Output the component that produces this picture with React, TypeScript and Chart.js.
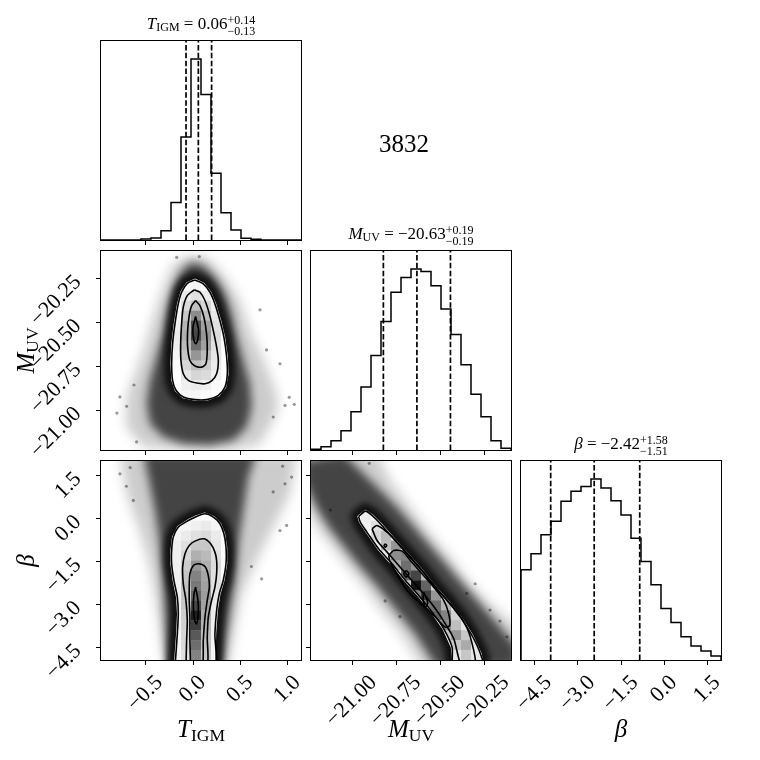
import React, { useEffect, useRef } from "react";
import { Chart, registerables } from "chart.js";

Chart.register(...registerables);

type Pt = [number, number];

// ---------- axis ranges & ticks ----------
const T_RANGE: Pt = [-0.968, 1.144];
const M_RANGE: Pt = [-21.23, -20.097];
const B_RANGE: Pt = [-4.96, 1.98];
const T_TICKS = [-0.5, 0.0, 0.5, 1.0];
const M_TICKS = [-21.0, -20.75, -20.5, -20.25];
const B_TICKS = [-4.5, -3.0, -1.5, 0.0, 1.5];

// ---------- 1D histograms (20 bins over each range) ----------
const T_HIST = [0, 0, 0, 0, 3, 6, 28, 113, 310, 545, 438, 201, 82, 30, 5, 2, 0, 0, 0, 0];
const M_HIST = [2, 10, 28, 58, 115, 190, 285, 387, 475, 520, 545, 538, 495, 425, 348, 257, 168, 100, 28, 5];
const B_HIST = [272, 320, 377, 418, 478, 508, 523, 545, 518, 480, 437, 367, 297, 227, 155, 113, 70, 42, 27, 12];

// median, +err, -err
const T_STATS = [0.06, 0.14, 0.13];
const M_STATS = [-20.63, 0.19, 0.19];
const B_STATS = [-2.42, 1.58, 1.51];

const OBJECT_ID = "3832";

// ---------- panel A: T_IGM vs M_UV ----------
const A_CLOUD_OUTER: Pt[] = [[-0.046, -20.123], [0.147, -20.133], [0.323, -20.228], [0.499, -20.379], [0.62, -20.569], [0.75, -20.72], [0.88, -20.9], [0.9, -21.0], [0.82, -21.09], [0.711, -21.194], [0.429, -21.231], [-0.099, -21.231], [-0.521, -21.212], [-0.7, -21.1], [-0.7, -20.93], [-0.62, -20.815], [-0.521, -20.663], [-0.416, -20.474], [-0.31, -20.303], [-0.205, -20.171]];
const A_CLOUD_INNER: Pt[] = [[-0.011, -20.161], [0.112, -20.18], [0.235, -20.247], [0.341, -20.341], [0.411, -20.455], [0.464, -20.587], [0.535, -20.72], [0.605, -20.853], [0.623, -20.985], [0.57, -21.099], [0.429, -21.175], [0.183, -21.203], [-0.099, -21.194], [-0.31, -21.156], [-0.451, -21.08], [-0.486, -20.966], [-0.451, -20.834], [-0.381, -20.701], [-0.31, -20.569], [-0.257, -20.417], [-0.187, -20.284], [-0.099, -20.199]];
const A_C1: Pt[] = [[0.024, -20.262], [0.112, -20.284], [0.183, -20.332], [0.235, -20.398], [0.288, -20.493], [0.33, -20.587], [0.359, -20.701], [0.366, -20.796], [0.341, -20.872], [0.271, -20.919], [0.147, -20.943], [0.024, -20.943], [-0.099, -20.928], [-0.176, -20.89], [-0.212, -20.834], [-0.222, -20.739], [-0.212, -20.625], [-0.187, -20.512], [-0.152, -20.398], [-0.117, -20.332], [-0.057, -20.281]];
const A_C2: Pt[] = [[0.017, -20.318], [0.077, -20.332], [0.13, -20.379], [0.176, -20.455], [0.218, -20.55], [0.253, -20.644], [0.271, -20.72], [0.253, -20.796], [0.2, -20.837], [0.13, -20.853], [0.042, -20.849], [-0.046, -20.834], [-0.099, -20.796], [-0.124, -20.72], [-0.127, -20.625], [-0.117, -20.512], [-0.099, -20.417], [-0.057, -20.351]];
const A_C3: Pt[] = [[0.031, -20.379], [0.077, -20.408], [0.119, -20.474], [0.147, -20.569], [0.154, -20.663], [0.14, -20.739], [0.095, -20.758], [0.024, -20.752], [-0.029, -20.72], [-0.053, -20.644], [-0.053, -20.55], [-0.036, -20.464], [-0.011, -20.408]];
const A_C4: Pt[] = [[0.031, -20.47], [0.063, -20.55], [0.052, -20.606], [0.031, -20.625], [0.007, -20.587], [0.003, -20.531]];
const A_OUT: Pt[] = [[0.711, -20.432], [0.975, -20.976], [1.073, -20.97], [0.922, -20.739], [-0.768, -20.928], [-0.697, -20.981], [0.07, -20.129], [-0.169, -20.133], [0.851, -21.042], [-0.592, -21.184], [0.78, -20.66], [-0.62, -20.86], [1.02, -20.93], [-0.8, -21.02]];
// density cells (percent darkness), rows from row 3 (top), columns from col 7
const A_DENS = [
  [0, 2, 4, 2, 0, 0],
  [0, 8, 12, 8, 2, 0],
  [2, 14, 25, 16, 6, 0],
  [4, 22, 45, 25, 10, 0],
  [6, 29, 69, 37, 12, 2],
  [8, 31, 73, 41, 14, 2],
  [6, 27, 57, 37, 12, 2],
  [4, 22, 41, 27, 10, 0],
  [2, 16, 25, 20, 8, 0],
  [0, 10, 16, 14, 6, 0],
  [0, 6, 8, 6, 2, 0],
  [0, 4, 4, 2, 0, 0],
];

// ---------- panel B: T_IGM vs beta ----------
const B_CLOUD_OUTER: Pt[] = [[-0.768, 2.232], [1.098, 2.232], [1.027, 0.836], [0.851, -0.326], [0.675, -1.489], [0.517, -2.652], [0.447, -3.815], [0.376, -5.21], [-0.293, -5.21], [-0.345, -3.815], [-0.398, -2.652], [-0.469, -1.489], [-0.574, -0.326], [-0.697, 0.836]];
const B_CLOUD_INNER: Pt[] = [[-0.521, 2.232], [0.675, 2.232], [0.587, 1.418], [0.535, 0.255], [0.482, -0.908], [0.447, -2.07], [0.394, -3.233], [0.341, -4.396], [0.306, -5.21], [-0.257, -5.21], [-0.275, -4.396], [-0.293, -3.233], [-0.31, -2.07], [-0.345, -0.908], [-0.398, 0.255], [-0.469, 1.418]];
const B_C1: Pt[] = [[-0.187, -5.21], [-0.162, -4.047], [-0.152, -3.349], [-0.162, -2.768], [-0.198, -2.187], [-0.222, -1.605], [-0.222, -1.14], [-0.205, -0.675], [-0.152, -0.326], [-0.046, -0.094], [0.042, 0.046], [0.13, 0.139], [0.218, 0.022], [0.288, -0.21], [0.33, -0.559], [0.352, -1.024], [0.352, -1.605], [0.323, -2.187], [0.281, -2.652], [0.253, -3.233], [0.235, -4.047], [0.228, -5.21]];
const B_C2: Pt[] = [[-0.071, -5.21], [-0.064, -4.28], [-0.057, -3.582], [-0.071, -2.884], [-0.099, -2.303], [-0.106, -1.722], [-0.081, -1.257], [-0.036, -0.966], [0.024, -0.815], [0.119, -0.733], [0.19, -0.908], [0.235, -1.198], [0.253, -1.489], [0.253, -1.954], [0.235, -2.419], [0.2, -2.884], [0.165, -3.466], [0.154, -4.163], [0.147, -5.21]];
const B_C3: Pt[] = [[-0.022, -5.21], [-0.029, -4.28], [-0.029, -3.466], [-0.036, -2.884], [-0.036, -2.419], [-0.029, -1.954], [0.007, -1.664], [0.059, -1.605], [0.13, -1.698], [0.165, -2.012], [0.176, -2.419], [0.154, -2.884], [0.13, -3.466], [0.112, -4.28], [0.098, -5.21]];
const B_C4: Pt[] = [[0.031, -2.419], [0.056, -2.884], [0.059, -3.349], [0.042, -3.698], [0.021, -3.582], [0.007, -3.117], [0.014, -2.652]];
const B_OUT: Pt[] = [[0.728, -2.128], [0.922, -0.443], [0.992, -0.268], [1.045, 1.418], [0.975, 1.185], [-0.768, 1.534], [-0.627, 0.604], [0.85, 0.9], [-0.7, 1.1], [0.62, -1.7], [-0.66, 1.75], [0.95, 1.8]];
// rows from row 5, columns from col 7
const B_DENS = [
  [0, 2, 2, 2, 0, 0],
  [2, 4, 6, 8, 4, 0],
  [4, 8, 12, 14, 8, 2],
  [6, 12, 22, 22, 10, 2],
  [6, 16, 31, 27, 12, 2],
  [6, 20, 41, 31, 14, 2],
  [6, 22, 49, 35, 12, 2],
  [6, 24, 53, 37, 12, 2],
  [6, 24, 61, 39, 10, 2],
  [6, 22, 73, 37, 8, 0],
  [6, 20, 88, 33, 8, 0],
  [6, 18, 76, 29, 6, 0],
  [4, 16, 65, 25, 6, 0],
  [4, 14, 57, 24, 4, 0],
  [4, 12, 49, 22, 4, 0],
];

// ---------- panel C: M_UV vs beta ----------
const C_CLOUD_OUTER: Pt[] = [[-21.272, 2.232], [-20.856, 2.232], [-20.781, 1.301], [-20.667, 0.371], [-20.554, -0.559], [-20.44, -1.373], [-20.327, -2.303], [-20.214, -3.001], [-20.062, -3.815], [-20.062, -5.21], [-20.6, -5.21], [-20.72, -4.047], [-20.83, -3.233], [-20.925, -2.419], [-21.02, -1.722], [-21.11, -1.024], [-21.2, -0.326], [-21.272, 0.604]];
const C_CLOUD_INNER: Pt[] = [[-21.272, 1.999], [-21.045, 2.232], [-20.951, 1.65], [-20.856, 1.069], [-20.743, 0.371], [-20.629, -0.443], [-20.516, -1.257], [-20.403, -2.07], [-20.289, -2.884], [-20.176, -3.698], [-20.062, -4.512], [-20.062, -5.21], [-20.52, -5.21], [-20.64, -4.047], [-20.76, -3.117], [-20.85, -2.419], [-20.95, -1.722], [-21.04, -1.024], [-21.13, -0.326], [-21.2, 0.371], [-21.272, 1.301]];
const C_C1: Pt[] = [[-20.96, 0.046], [-20.922, 0.232], [-20.884, 0.081], [-20.828, -0.268], [-20.762, -0.733], [-20.686, -1.257], [-20.61, -1.78], [-20.535, -2.361], [-20.459, -2.884], [-20.384, -3.466], [-20.318, -4.105], [-20.27, -4.745], [-20.255, -5.21], [-20.421, -5.21], [-20.431, -4.512], [-20.478, -3.873], [-20.544, -3.291], [-20.62, -2.71], [-20.695, -2.187], [-20.771, -1.605], [-20.847, -1.082], [-20.913, -0.501], [-20.951, -0.152]];
const C_C2: Pt[] = [[-20.884, -0.385], [-20.856, -0.268], [-20.799, -0.501], [-20.733, -0.908], [-20.667, -1.373], [-20.592, -1.896], [-20.516, -2.477], [-20.44, -3.001], [-20.374, -3.524], [-20.327, -4.163], [-20.299, -5.21], [-20.374, -5.21], [-20.421, -4.221], [-20.469, -3.698], [-20.525, -3.175], [-20.592, -2.652], [-20.667, -2.128], [-20.733, -1.664], [-20.799, -1.198], [-20.856, -0.791]];
const C_C3: Pt[] = [[-20.79, -1.315], [-20.762, -1.14], [-20.714, -1.164], [-20.667, -1.489], [-20.601, -1.954], [-20.535, -2.419], [-20.478, -2.884], [-20.45, -3.349], [-20.444, -3.756], [-20.469, -3.815], [-20.507, -3.582], [-20.563, -3.233], [-20.629, -2.884], [-20.686, -2.535], [-20.743, -1.954], [-20.781, -1.547]];
const C_C4A: Pt[] = [[-20.69, -1.838], [-20.675, -1.954], [-20.69, -2.07], [-20.705, -1.954]];
const C_C4B: Pt[] = [[-20.592, -2.594], [-20.569, -2.942], [-20.58, -3.117], [-20.595, -2.884]];
const C_C4C: Pt[] = [[-20.809, -0.908], [-20.801, -0.966], [-20.809, -1.024], [-20.816, -0.966]];
const C_OUT: Pt[] = [[-20.216, -3.217], [-20.726, -3.45], [-21.12, 0.27], [-20.348, -2.636], [-20.12, -4.15], [-20.3, -2.3], [-20.9, 1.9], [-20.81, -2.9], [-20.16, -3.6]];
// rows from row 5, columns from col 4
const C_DENS = [
  [0, 8, 4, 0, 0, 0, 0, 0, 0, 0, 0, 0, 0, 0],
  [0, 6, 12, 6, 0, 0, 0, 0, 0, 0, 0, 0, 0, 0],
  [0, 0, 16, 27, 10, 0, 0, 0, 0, 0, 0, 0, 0, 0],
  [0, 0, 6, 25, 41, 14, 0, 0, 0, 0, 0, 0, 0, 0],
  [0, 0, 0, 10, 45, 49, 16, 0, 0, 0, 0, 0, 0, 0],
  [0, 0, 0, 0, 33, 57, 41, 14, 0, 0, 0, 0, 0, 0],
  [0, 0, 0, 0, 10, 61, 73, 29, 0, 0, 0, 0, 0, 0],
  [0, 0, 0, 0, 0, 22, 92, 61, 18, 0, 0, 0, 0, 0],
  [0, 0, 0, 0, 0, 0, 49, 76, 41, 14, 0, 0, 0, 0],
  [0, 0, 0, 0, 0, 0, 14, 53, 57, 29, 0, 0, 0, 0],
  [0, 0, 0, 0, 0, 0, 0, 14, 61, 49, 18, 0, 0, 0],
  [0, 0, 0, 0, 0, 0, 0, 0, 33, 45, 25, 10, 0, 0],
  [0, 0, 0, 0, 0, 0, 0, 0, 10, 22, 41, 22, 6, 0],
  [0, 0, 0, 0, 0, 0, 0, 0, 0, 14, 22, 33, 10, 0],
  [0, 0, 0, 0, 0, 0, 0, 0, 0, 0, 10, 22, 10, 0],
];

// ---------- layout ----------
const COL_X = [101, 311, 521];
const ROW_Y = [41, 251, 461];
const PANEL_W = 200;
const PANEL_H = 199;
const SERIF = "'Liberation Serif', 'Times New Roman', serif";
const NBINS = 20;
const TICK_FONT = 22;

type Part = { t?: string; sup?: string; sub?: string; size: number; italic?: boolean; dy?: number };

const fmt = (v: number, d: number) => v.toFixed(d).replace("-", "\u2212");
const font = (size: number, italic?: boolean) => `${italic ? "italic " : ""}${size}px ${SERIF}`;

function partWidth(ctx: CanvasRenderingContext2D, p: Part) {
  if (p.sup !== undefined) {
    ctx.font = font(p.size);
    return Math.max(ctx.measureText(p.sup).width, ctx.measureText(p.sub || "").width);
  }
  ctx.font = font(p.size, p.italic);
  return ctx.measureText(p.t || "").width;
}

function drawParts(ctx: CanvasRenderingContext2D, parts: Part[], cx: number, y: number) {
  const widths = parts.map((p) => partWidth(ctx, p));
  const total = widths.reduce((s, w) => s + w, 0);
  let x = cx - total / 2;
  ctx.textAlign = "left";
  ctx.textBaseline = "alphabetic";
  ctx.fillStyle = "#000";
  parts.forEach((p, i) => {
    if (p.sup !== undefined) {
      ctx.font = font(p.size);
      ctx.fillText(p.sup, x, y - 4.5);
      ctx.fillText(p.sub || "", x, y + 6);
    } else {
      ctx.font = font(p.size, p.italic);
      ctx.fillText(p.t || "", x, y + (p.dy || 0));
    }
    x += widths[i];
  });
}

const LBL_T: Part[] = [{ t: "T", size: 25, italic: true }, { t: "IGM", size: 17.5, dy: 3.5 }];
const LBL_M: Part[] = [{ t: "M", size: 25, italic: true }, { t: "UV", size: 17.5, dy: 3.5 }];
const LBL_B: Part[] = [{ t: "\u03b2", size: 25, italic: true }];

function titleParts(sym: string, sub: string | null, st: number[]): Part[] {
  const parts: Part[] = [{ t: sym, size: 17, italic: true }];
  if (sub) parts.push({ t: sub, size: 12, dy: 2.5 });
  parts.push({ t: " = " + fmt(st[0], 2), size: 17 });
  parts.push({ sup: "+" + st[1].toFixed(2), sub: "\u2212" + st[2].toFixed(2), size: 12 });
  return parts;
}

function stepPoints(counts: number[], range: Pt) {
  const w = (range[1] - range[0]) / counts.length;
  const pts = [{ x: range[0], y: 0 }];
  counts.forEach((c, i) => {
    pts.push({ x: range[0] + i * w, y: c });
    pts.push({ x: range[0] + (i + 1) * w, y: c });
  });
  pts.push({ x: range[1], y: 0 });
  return pts;
}

function histDatasets(counts: number[], range: Pt, st: number[]) {
  const ymax = 1.1 * Math.max(...counts);
  const qs = [st[0] - st[2], st[0], st[0] + st[1]];
  return [
    { data: stepPoints(counts, range), showLine: true, borderColor: "#000", borderWidth: 1.5, pointRadius: 0, tension: 0, fill: false },
    ...qs.map((q) => ({
      data: [{ x: q, y: 0 }, { x: q, y: ymax }],
      showLine: true, borderColor: "#000", borderWidth: 1.7, borderDash: [5.5, 2.4], pointRadius: 0, fill: false,
    })),
  ];
}

const contourSet = (pts: Pt[]) => ({
  data: [...pts, pts[0]].map(([x, y]) => ({ x, y })),
  showLine: true, borderColor: "#000", borderWidth: 1.6, pointRadius: 0, tension: 0.25, fill: false,
});
const pointsSet = (pts: Pt[]) => ({
  data: pts.map(([x, y]) => ({ x, y })),
  showLine: false, pointRadius: 1.6, backgroundColor: "rgba(0,0,0,0.4)", borderWidth: 0,
});

type Cloud = { outer: Pt[]; inner: Pt[]; white: Pt[]; dens: number[][]; col0: number; row0: number };
type Spec = {
  col: number; row: number; xRange: Pt; yRange: Pt;
  xTicks: number[]; xDec: number; xTickLabels: boolean;
  yTicks?: number[]; yDec?: number; yTickLabels?: boolean;
  xLabel?: Part[]; yLabel?: Part[]; title?: Part[]; extra?: string;
  datasets: any[]; cloud?: Cloud;
};

const SPECS: Spec[] = [
  {
    col: 0, row: 0, xRange: T_RANGE, yRange: [0, 1.1 * Math.max(...T_HIST)],
    xTicks: T_TICKS, xDec: 1, xTickLabels: false,
    title: titleParts("T", "IGM", T_STATS), extra: OBJECT_ID,
    datasets: histDatasets(T_HIST, T_RANGE, T_STATS),
  },
  {
    col: 1, row: 1, xRange: M_RANGE, yRange: [0, 1.1 * Math.max(...M_HIST)],
    xTicks: M_TICKS, xDec: 2, xTickLabels: false,
    title: titleParts("M", "UV", M_STATS),
    datasets: histDatasets(M_HIST, M_RANGE, M_STATS),
  },
  {
    col: 2, row: 2, xRange: B_RANGE, yRange: [0, 1.1 * Math.max(...B_HIST)],
    xTicks: B_TICKS, xDec: 1, xTickLabels: true, xLabel: LBL_B,
    title: titleParts("\u03b2", null, B_STATS),
    datasets: histDatasets(B_HIST, B_RANGE, B_STATS),
  },
  {
    col: 0, row: 1, xRange: T_RANGE, yRange: M_RANGE,
    xTicks: T_TICKS, xDec: 1, xTickLabels: false,
    yTicks: M_TICKS, yDec: 2, yTickLabels: true, yLabel: LBL_M,
    datasets: [A_C1, A_C2, A_C3, A_C4].map(contourSet).concat([pointsSet(A_OUT)] as any),
    cloud: { outer: A_CLOUD_OUTER, inner: A_CLOUD_INNER, white: A_C1, dens: A_DENS, col0: 7, row0: 3 },
  },
  {
    col: 0, row: 2, xRange: T_RANGE, yRange: B_RANGE,
    xTicks: T_TICKS, xDec: 1, xTickLabels: true, xLabel: LBL_T,
    yTicks: B_TICKS, yDec: 1, yTickLabels: true, yLabel: LBL_B,
    datasets: [B_C1, B_C2, B_C3, B_C4].map(contourSet).concat([pointsSet(B_OUT)] as any),
    cloud: { outer: B_CLOUD_OUTER, inner: B_CLOUD_INNER, white: B_C1, dens: B_DENS, col0: 7, row0: 5 },
  },
  {
    col: 1, row: 2, xRange: M_RANGE, yRange: B_RANGE,
    xTicks: M_TICKS, xDec: 2, xTickLabels: true, xLabel: LBL_M,
    yTicks: B_TICKS, yDec: 1, yTickLabels: false,
    datasets: [C_C1, C_C2, C_C3, C_C4A, C_C4B, C_C4C].map(contourSet).concat([pointsSet(C_OUT)] as any),
    cloud: { outer: C_CLOUD_OUTER, inner: C_CLOUD_INNER, white: C_C1, dens: C_DENS, col0: 4, row0: 5 },
  },
];

function makePlugin(spec: Spec, idx: number) {
  return {
    id: "corner" + idx,
    beforeDatasetsDraw(chart: any) {
      const cl = spec.cloud;
      if (!cl) return;
      const ctx: CanvasRenderingContext2D = chart.ctx;
      const a = chart.chartArea;
      const xs = chart.scales.x;
      const ys = chart.scales.y;
      const path = (pts: Pt[]) => {
        ctx.beginPath();
        pts.forEach(([u, v], i) => {
          const px = xs.getPixelForValue(u);
          const py = ys.getPixelForValue(v);
          if (i) ctx.lineTo(px, py);
          else ctx.moveTo(px, py);
        });
        ctx.closePath();
      };
      ctx.save();
      ctx.beginPath();
      ctx.rect(a.left, a.top, a.right - a.left, a.bottom - a.top);
      ctx.clip();
      ctx.filter = "blur(6px)";
      ctx.fillStyle = "rgba(0,0,0,0.2)";
      path(cl.outer);
      ctx.fill();
      ctx.filter = "blur(5px)";
      ctx.fillStyle = "rgba(15,15,15,0.72)";
      path(cl.inner);
      ctx.fill();
      ctx.filter = "blur(3px)";
      ctx.strokeStyle = "rgba(12,12,12,0.92)";
      ctx.lineWidth = 16;
      ctx.lineJoin = "round";
      path(cl.white);
      ctx.stroke();
      ctx.filter = "none";
      ctx.fillStyle = "#fff";
      ctx.strokeStyle = "#fff";
      ctx.lineWidth = 2.5;
      path(cl.white);
      ctx.fill();
      ctx.stroke();
      path(cl.white);
      ctx.clip();
      const dx = (spec.xRange[1] - spec.xRange[0]) / NBINS;
      const dy = (spec.yRange[1] - spec.yRange[0]) / NBINS;
      cl.dens.forEach((row, ri) =>
        row.forEach((d, ci) => {
          if (d <= 0) return;
          const c = cl.col0 + ci;
          const r = cl.row0 + ri;
          const x0 = xs.getPixelForValue(spec.xRange[0] + c * dx);
          const x1 = xs.getPixelForValue(spec.xRange[0] + (c + 1) * dx);
          const y0 = ys.getPixelForValue(spec.yRange[1] - r * dy);
          const y1 = ys.getPixelForValue(spec.yRange[1] - (r + 1) * dy);
          const g = Math.round(255 * (1 - d / 100));
          ctx.fillStyle = `rgb(${g},${g},${g})`;
          ctx.fillRect(x0, y0, x1 - x0 + 0.4, y1 - y0 + 0.4);
        })
      );
      ctx.restore();
    },
    afterDraw(chart: any) {
      const ctx: CanvasRenderingContext2D = chart.ctx;
      const a = chart.chartArea;
      const xs = chart.scales.x;
      const ys = chart.scales.y;
      ctx.save();
      ctx.strokeStyle = "#000";
      ctx.lineWidth = 1;
      ctx.strokeRect(a.left - 0.5, a.top - 0.5, a.right - a.left + 1, a.bottom - a.top + 1);
      spec.xTicks.forEach((v) => {
        const px = Math.round(xs.getPixelForValue(v)) + 0.5;
        ctx.beginPath();
        ctx.moveTo(px, a.bottom);
        ctx.lineTo(px, a.bottom + 5);
        ctx.stroke();
        if (spec.xTickLabels) {
          const txt = fmt(v, spec.xDec);
          ctx.font = font(TICK_FONT);
          const w = ctx.measureText(txt).width;
          const cy = a.bottom + 14 + (w + 0.7 * TICK_FONT) / (2 * Math.SQRT2);
          ctx.save();
          ctx.translate(xs.getPixelForValue(v), cy);
          ctx.rotate(-Math.PI / 4);
          ctx.textAlign = "center";
          ctx.textBaseline = "middle";
          ctx.fillStyle = "#000";
          ctx.fillText(txt, 0, 0);
          ctx.restore();
        }
      });
      (spec.yTicks || []).forEach((v) => {
        const py = Math.round(ys.getPixelForValue(v)) + 0.5;
        ctx.beginPath();
        ctx.moveTo(a.left, py);
        ctx.lineTo(a.left - 5, py);
        ctx.stroke();
        if (spec.yTickLabels) {
          const txt = fmt(v, spec.yDec || 0);
          ctx.save();
          ctx.translate(a.left - 23, ys.getPixelForValue(v) + 1);
          ctx.rotate(-Math.PI / 4);
          ctx.font = font(TICK_FONT);
          ctx.textAlign = "right";
          ctx.textBaseline = "middle";
          ctx.fillStyle = "#000";
          ctx.fillText(txt, 0, 0);
          ctx.restore();
        }
      });
      const cx = (a.left + a.right) / 2;
      if (spec.title) drawParts(ctx, spec.title, cx, a.top - 12.5);
      if (spec.xLabel) drawParts(ctx, spec.xLabel, cx, 737);
      if (spec.yLabel) {
        ctx.save();
        ctx.translate(34, (a.top + a.bottom) / 2);
        ctx.rotate(-Math.PI / 2);
        drawParts(ctx, spec.yLabel, 0, 0);
        ctx.restore();
      }
      if (spec.extra) {
        ctx.font = font(25);
        ctx.textAlign = "center";
        ctx.textBaseline = "alphabetic";
        ctx.fillStyle = "#000";
        ctx.fillText(spec.extra, 404, 152);
      }
      ctx.restore();
    },
  };
}

function Panel({ spec, idx }: { spec: Spec; idx: number }) {
  const ref = useRef<HTMLCanvasElement>(null);
  useEffect(() => {
    const x0 = COL_X[spec.col];
    const y0 = ROW_Y[spec.row];
    const chart = new Chart(ref.current as HTMLCanvasElement, {
      type: "scatter",
      data: { datasets: spec.datasets },
      options: {
        animation: false,
        responsive: false,
        devicePixelRatio: 1,
        events: [],
        layout: { padding: { left: x0, top: y0, right: 760 - x0 - PANEL_W, bottom: 760 - y0 - PANEL_H } },
        elements: { line: { capBezierPoints: false } },
        scales: {
          x: { type: "linear", min: spec.xRange[0], max: spec.xRange[1], display: false },
          y: { type: "linear", min: spec.yRange[0], max: spec.yRange[1], display: false },
        },
        plugins: { legend: { display: false }, tooltip: { enabled: false } },
      } as any,
      plugins: [makePlugin(spec, idx)],
    } as any);
    return () => chart.destroy();
  }, [spec, idx]);
  return (
    <canvas
      ref={ref}
      width={760}
      height={760}
      style={{ position: "absolute", left: 0, top: 0, width: 760, height: 760 }}
    />
  );
}

export default function App() {
  return (
    <div style={{ position: "absolute", left: 0, top: 0, width: 760, height: 760, background: "#fff", overflow: "hidden" }}>
      {SPECS.map((s, i) => (
        <Panel key={i} spec={s} idx={i} />
      ))}
    </div>
  );
}
